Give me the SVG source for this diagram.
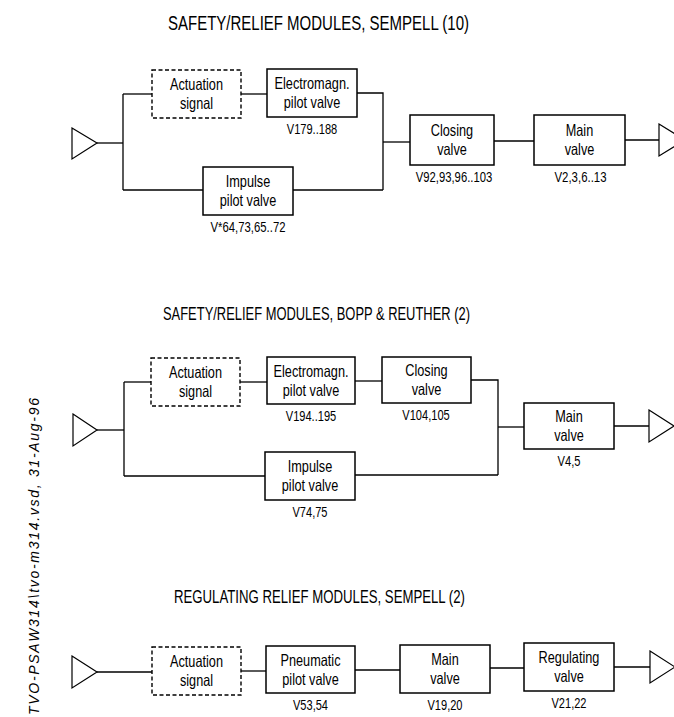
<svg xmlns="http://www.w3.org/2000/svg" width="674" height="717" viewBox="0 0 674 717">
<style>
.t{font-family:"Liberation Sans",Arial,sans-serif;fill:#000;text-anchor:middle}
.title{font-size:20px}
.title2{font-size:19px}
.bx{font-size:16.5px}
.lb{font-size:14.5px}
.box{fill:#fff;stroke:#000;stroke-width:1.5}
.dash{fill:#fff;stroke:#000;stroke-width:1.4;stroke-dasharray:4 2.5}
.ln{fill:none;stroke:#000;stroke-width:1.3}
.tri{fill:#fff;stroke:#000;stroke-width:1.2}
.side{font-family:"Liberation Sans",Arial,sans-serif;font-style:italic;font-size:14px;fill:#000}
</style>
<rect width="674" height="717" fill="#fff"/>

<!-- titles -->
<text class="t title" x="318.5" y="30" textLength="301" lengthAdjust="spacingAndGlyphs">SAFETY/RELIEF MODULES, SEMPELL (10)</text>
<text class="t title2" x="316.5" y="320" textLength="307" lengthAdjust="spacingAndGlyphs">SAFETY/RELIEF MODULES, BOPP &amp; REUTHER (2)</text>
<text class="t title2" x="319.5" y="603" textLength="291" lengthAdjust="spacingAndGlyphs">REGULATING RELIEF MODULES, SEMPELL (2)</text>

<text class="side" transform="translate(39,715) rotate(-90)" x="0" y="0" textLength="317" lengthAdjust="spacing">TVO-PSAW314\tvo-m314.vsd, 31-Aug-96</text>

<!-- connectors -->
<g id="connectors">
  <!-- section 1 -->
  <polyline class="ln" points="97,143 123,143"/>
  <polyline class="ln" points="123,94 123,190"/>
  <polyline class="ln" points="123,94 152,94"/>
  <polyline class="ln" points="241,94 267,94"/>
  <polyline class="ln" points="357,93 383,93 383,190"/>
  <polyline class="ln" points="123,190 203,190"/>
  <polyline class="ln" points="293,190 383,190"/>
  <polyline class="ln" points="383,142 410,142"/>
  <polyline class="ln" points="494,141 534,141"/>
  <polyline class="ln" points="625,140 659,140"/>
  <!-- section 2 -->
  <polyline class="ln" points="97,430 124,430"/>
  <polyline class="ln" points="124,382 124,476"/>
  <polyline class="ln" points="124,382 151,382"/>
  <polyline class="ln" points="240,382 267,382"/>
  <polyline class="ln" points="355,381 382,381"/>
  <polyline class="ln" points="471,380 498,380 498,475"/>
  <polyline class="ln" points="124,476 265,476"/>
  <polyline class="ln" points="355,475 498,475"/>
  <polyline class="ln" points="498,427 524,427"/>
  <polyline class="ln" points="614,426 649,426"/>
  <!-- section 3 -->
  <polyline class="ln" points="97,672 152,672"/>
  <polyline class="ln" points="241,671 266,671"/>
  <polyline class="ln" points="355,670 400,670"/>
  <polyline class="ln" points="490,668 524,668"/>
  <polyline class="ln" points="614,667 650,667"/>
</g>

<!-- section 1 nodes -->
<g id="s1-in"><polygon class="tri" points="72,128 97,143 72,159"/></g>
<g id="s1-actuation">
  <rect class="dash" x="152" y="70" width="89" height="48"/>
  <text class="t bx" x="196.5" y="90" textLength="53" lengthAdjust="spacingAndGlyphs">Actuation</text>
  <text class="t bx" x="196.5" y="109" textLength="33" lengthAdjust="spacingAndGlyphs">signal</text>
</g>
<g id="s1-electromagn">
  <rect class="box" x="267" y="69" width="90" height="48"/>
  <text class="t bx" x="312" y="89" textLength="75" lengthAdjust="spacingAndGlyphs">Electromagn.</text>
  <text class="t bx" x="312" y="108" textLength="56.5" lengthAdjust="spacingAndGlyphs">pilot valve</text>
  <text class="t lb" x="312" y="134" textLength="50.5" lengthAdjust="spacingAndGlyphs">V179..188</text>
</g>
<g id="s1-impulse">
  <rect class="box" x="203" y="167" width="90" height="48"/>
  <text class="t bx" x="248" y="187" textLength="44.5" lengthAdjust="spacingAndGlyphs">Impulse</text>
  <text class="t bx" x="248" y="206" textLength="56.5" lengthAdjust="spacingAndGlyphs">pilot valve</text>
  <text class="t lb" x="248" y="232" textLength="75" lengthAdjust="spacingAndGlyphs">V*64,73,65..72</text>
</g>
<g id="s1-closing">
  <rect class="box" x="410" y="115" width="84" height="50"/>
  <text class="t bx" x="452" y="136" textLength="42.4" lengthAdjust="spacingAndGlyphs">Closing</text>
  <text class="t bx" x="452" y="155" textLength="29.7" lengthAdjust="spacingAndGlyphs">valve</text>
  <text class="t lb" x="454" y="182" textLength="76.5" lengthAdjust="spacingAndGlyphs">V92,93,96..103</text>
</g>
<g id="s1-main">
  <rect class="box" x="534" y="115" width="91" height="50"/>
  <text class="t bx" x="579.5" y="136" textLength="27.5" lengthAdjust="spacingAndGlyphs">Main</text>
  <text class="t bx" x="579.5" y="155" textLength="29.7" lengthAdjust="spacingAndGlyphs">valve</text>
  <text class="t lb" x="580.5" y="182" textLength="52" lengthAdjust="spacingAndGlyphs">V2,3,6..13</text>
</g>
<g id="s1-out"><polygon class="tri" points="659,124 685,140 659,156"/></g>

<!-- section 2 nodes -->
<g id="s2-in"><polygon class="tri" points="73,414 97,430 73,446"/></g>
<g id="s2-actuation">
  <rect class="dash" x="151" y="358" width="89" height="48"/>
  <text class="t bx" x="195.5" y="378" textLength="53" lengthAdjust="spacingAndGlyphs">Actuation</text>
  <text class="t bx" x="195.5" y="397" textLength="33" lengthAdjust="spacingAndGlyphs">signal</text>
</g>
<g id="s2-electromagn">
  <rect class="box" x="267" y="357" width="88" height="47"/>
  <text class="t bx" x="311" y="376.5" textLength="75" lengthAdjust="spacingAndGlyphs">Electromagn.</text>
  <text class="t bx" x="311" y="395.5" textLength="56.5" lengthAdjust="spacingAndGlyphs">pilot valve</text>
  <text class="t lb" x="311" y="421" textLength="50.5" lengthAdjust="spacingAndGlyphs">V194..195</text>
</g>
<g id="s2-closing">
  <rect class="box" x="382" y="357" width="89" height="46"/>
  <text class="t bx" x="426.5" y="376" textLength="42.4" lengthAdjust="spacingAndGlyphs">Closing</text>
  <text class="t bx" x="426.5" y="395" textLength="29.7" lengthAdjust="spacingAndGlyphs">valve</text>
  <text class="t lb" x="426" y="420" textLength="47.5" lengthAdjust="spacingAndGlyphs">V104,105</text>
</g>
<g id="s2-impulse">
  <rect class="box" x="265" y="452" width="90" height="48"/>
  <text class="t bx" x="310" y="472" textLength="44.5" lengthAdjust="spacingAndGlyphs">Impulse</text>
  <text class="t bx" x="310" y="491" textLength="56.5" lengthAdjust="spacingAndGlyphs">pilot valve</text>
  <text class="t lb" x="310" y="516.5" textLength="35" lengthAdjust="spacingAndGlyphs">V74,75</text>
</g>
<g id="s2-main">
  <rect class="box" x="524" y="403" width="90" height="46"/>
  <text class="t bx" x="569" y="422" textLength="27.5" lengthAdjust="spacingAndGlyphs">Main</text>
  <text class="t bx" x="569" y="441" textLength="29.7" lengthAdjust="spacingAndGlyphs">valve</text>
  <text class="t lb" x="569" y="466" textLength="23" lengthAdjust="spacingAndGlyphs">V4,5</text>
</g>
<g id="s2-out"><polygon class="tri" points="649,410 674,426 649,442"/></g>

<!-- section 3 nodes -->
<g id="s3-in"><polygon class="tri" points="72,656 97,672 72,688"/></g>
<g id="s3-actuation">
  <rect class="dash" x="152" y="647" width="89" height="48"/>
  <text class="t bx" x="196.5" y="667" textLength="53" lengthAdjust="spacingAndGlyphs">Actuation</text>
  <text class="t bx" x="196.5" y="686" textLength="33" lengthAdjust="spacingAndGlyphs">signal</text>
</g>
<g id="s3-pneumatic">
  <rect class="box" x="266" y="646" width="89" height="47"/>
  <text class="t bx" x="310.5" y="665.5" textLength="60" lengthAdjust="spacingAndGlyphs">Pneumatic</text>
  <text class="t bx" x="310.5" y="684.5" textLength="56.5" lengthAdjust="spacingAndGlyphs">pilot valve</text>
  <text class="t lb" x="310.5" y="710" textLength="35" lengthAdjust="spacingAndGlyphs">V53,54</text>
</g>
<g id="s3-main">
  <rect class="box" x="400" y="645" width="90" height="48"/>
  <text class="t bx" x="445" y="665" textLength="27.5" lengthAdjust="spacingAndGlyphs">Main</text>
  <text class="t bx" x="445" y="684" textLength="29.7" lengthAdjust="spacingAndGlyphs">valve</text>
  <text class="t lb" x="445" y="710" textLength="35" lengthAdjust="spacingAndGlyphs">V19,20</text>
</g>
<g id="s3-regulating">
  <rect class="box" x="524" y="643" width="90" height="48"/>
  <text class="t bx" x="569" y="663" textLength="60.8" lengthAdjust="spacingAndGlyphs">Regulating</text>
  <text class="t bx" x="569" y="682" textLength="29.7" lengthAdjust="spacingAndGlyphs">valve</text>
  <text class="t lb" x="569" y="708" textLength="35" lengthAdjust="spacingAndGlyphs">V21,22</text>
</g>
<g id="s3-out"><polygon class="tri" points="650,651 675,667 650,683"/></g>
</svg>
